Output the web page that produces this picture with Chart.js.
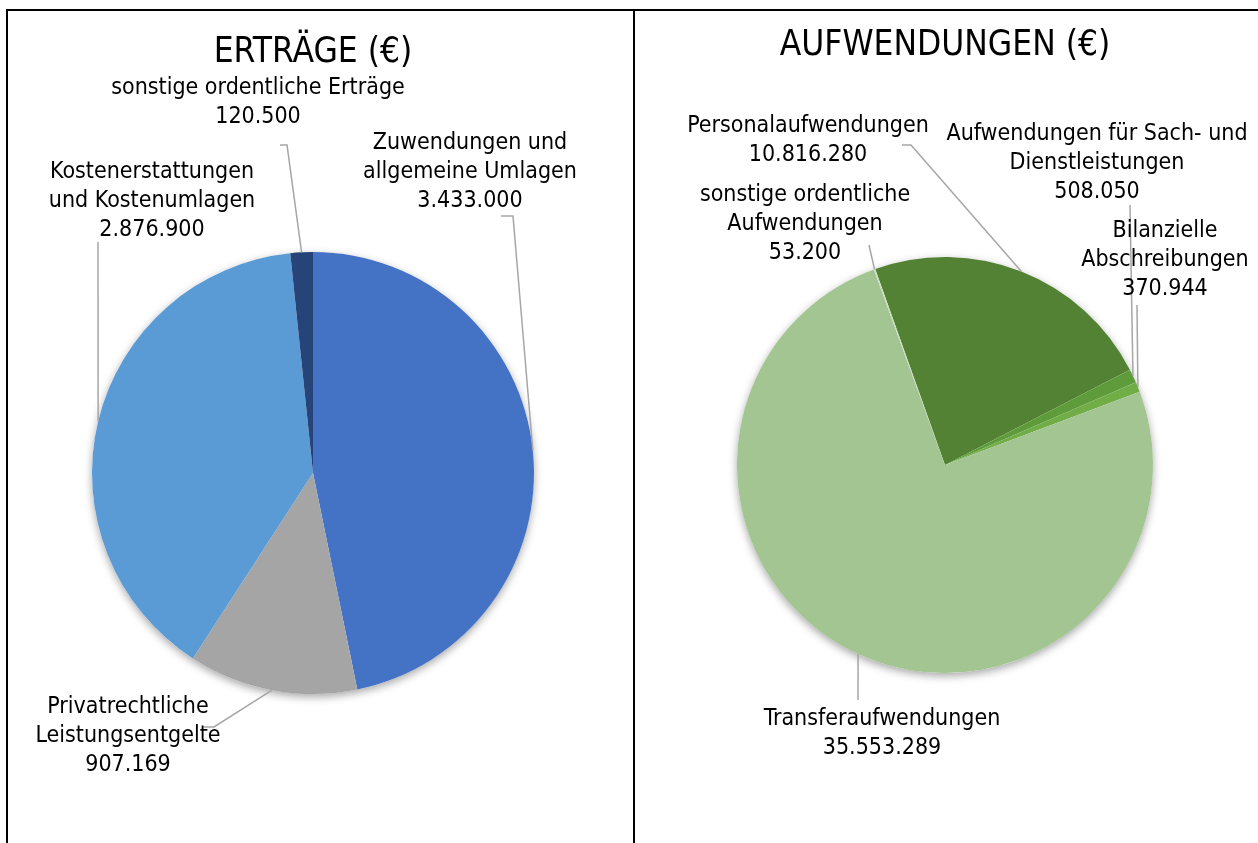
<!DOCTYPE html>
<html lang="de">
<head>
<meta charset="utf-8">
<title>Erträge und Aufwendungen</title>
<script src="https://cdn.jsdelivr.net/npm/chart.js@4/dist/chart.umd.min.js"></script>
<style>
  html, body { margin: 0; padding: 0; background: #fff; }
  body { width: 1258px; height: 843px; position: relative; overflow: hidden; }
  .frame { position: absolute; background: #000; }
  .panel { position: absolute; top: 11px; height: 832px; }
  #left { left: 9px; width: 624px; }
  #right { left: 636px; width: 622px; }
</style>
</head>
<body>
<div class="frame" style="left:6px;top:9px;width:1252px;height:2px"></div>
<div class="frame" style="left:6px;top:9px;width:2px;height:834px"></div>
<div class="frame" style="left:633px;top:9px;width:2px;height:834px"></div>
<div class="panel" id="left"><canvas id="ertraege"></canvas></div>
<div class="panel" id="right"><canvas id="aufwendungen"></canvas></div>
<script>
// Erträge
const ertraegeLabels = [
  ['Zuwendungen und', 'allgemeine Umlagen'],
  ['Privatrechtliche', 'Leistungsentgelte'],
  ['Kostenerstattungen', 'und Kostenumlagen'],
  ['sonstige ordentliche Erträge']
];
const ertraegeValues = [3433000, 907169, 2876900, 120500];
const ertraegeColors = ['#4472C4', '#A5A5A5', '#5B9BD5', '#264478'];

// Aufwendungen
const aufwLabels = [
  ['Personalaufwendungen'],
  ['Aufwendungen für Sach- und', 'Dienstleistungen'],
  ['Bilanzielle', 'Abschreibungen'],
  ['Transferaufwendungen'],
  ['sonstige ordentliche', 'Aufwendungen']
];
const aufwValues = [10816280, 508050, 370944, 35553289, 53200];
const aufwColors = ['#548235', '#5E9B3A', '#70AD47', '#A2C592', '#C8DDBB'];

const FONT = '"Liberation Sans Narrow", "DejaVu Sans Condensed", "Liberation Sans", sans-serif';
const fmt = v => v.toLocaleString('de-DE');

// Schatten unter dem Kreis
const pieShadow = {
  id: 'pieShadow',
  beforeDatasetsDraw(chart) {
    const arc = chart.getDatasetMeta(0).data[0];
    if (!arc) return;
    const c = chart.ctx;
    c.save();
    c.shadowColor = 'rgba(0,0,0,0.35)';
    c.shadowBlur = 9;
    c.shadowOffsetY = 3;
    c.fillStyle = '#fff';
    c.beginPath();
    c.arc(arc.x, arc.y, arc.outerRadius, 0, Math.PI * 2);
    c.fill();
    c.restore();
  }
};

// Beschriftungen mit Führungslinien
const leaderLabels = {
  id: 'leaderLabels',
  afterDatasetsDraw(chart, args, opts) {
    const c = chart.ctx;
    const meta = chart.getDatasetMeta(0);
    const values = chart.data.datasets[0].data;
    c.save();
    opts.items.forEach((it, i) => {
      const arc = meta.data[i];
      const mid = (arc.startAngle + arc.endAngle) / 2;
      const px = arc.x + Math.cos(mid) * arc.outerRadius;
      const py = arc.y + Math.sin(mid) * arc.outerRadius;
      c.strokeStyle = '#A6A6A6';
      c.lineWidth = 1.5;
      c.beginPath();
      it.from.forEach((p, k) => k ? c.lineTo(p[0], p[1]) : c.moveTo(p[0], p[1]));
      c.lineTo(px, py);
      c.stroke();

      const lines = chart.data.labels[i].concat([fmt(values[i])]);
      c.fillStyle = '#000';
      c.font = opts.size + 'px ' + FONT;
      c.textAlign = 'center';
      c.textBaseline = 'middle';
      lines.forEach((t, k) => c.fillText(t, it.x, it.y + k * opts.lineHeight));
    });
    c.restore();
  }
};

function makePie(id, title, labels, values, colors, cfg) {
  return new Chart(document.getElementById(id), {
    type: 'pie',
    data: {
      labels: labels,
      datasets: [{ data: values, backgroundColor: colors, borderWidth: 0 }]
    },
    options: {
      responsive: true,
      maintainAspectRatio: false,
      animation: false,
      rotation: cfg.rotation,
      layout: { padding: cfg.padding },
      plugins: {
        legend: { display: false },
        tooltip: { enabled: false },
        title: {
          display: true,
          text: title,
          color: '#000',
          font: { family: FONT, size: 35, weight: 'normal' },
          padding: cfg.titlePadding
        },
        leaderLabels: { size: 23, lineHeight: 29, items: cfg.items }
      }
    },
    plugins: [pieShadow, leaderLabels]
  });
}

makePie('ertraege', 'ERTRÄGE (€)', ertraegeLabels, ertraegeValues, ertraegeColors, {
  rotation: 0,
  padding: { left: 83, right: 99, top: 0, bottom: 148 },
  titlePadding: { top: 21, bottom: 177 },
  items: [
    { x: 461, y: 132, from: [[492, 205], [504, 205]] },
    { x: 119, y: 696, from: [[195, 716], [205, 716]] },
    { x: 143, y: 161, from: [[89, 231]] },
    { x: 249, y: 77, from: [[271, 134], [278, 134]] }
  ]
});

makePie('aufwendungen', 'AUFWENDUNGEN (€)', aufwLabels, aufwValues, aufwColors, {
  rotation: -19.6,
  padding: { left: 101, right: 105, top: 0, bottom: 169 },
  titlePadding: { top: 14, bottom: 189 },
  items: [
    { x: 172, y: 115, from: [[266, 134], [275, 134]] },
    { x: 461, y: 123, from: [[494, 194]] },
    { x: 529, y: 220, from: [[501, 294]] },
    { x: 246, y: 708, from: [[222, 689]] },
    { x: 169, y: 184, from: [[233, 234]] }
  ]
});
</script>
</body>
</html>
